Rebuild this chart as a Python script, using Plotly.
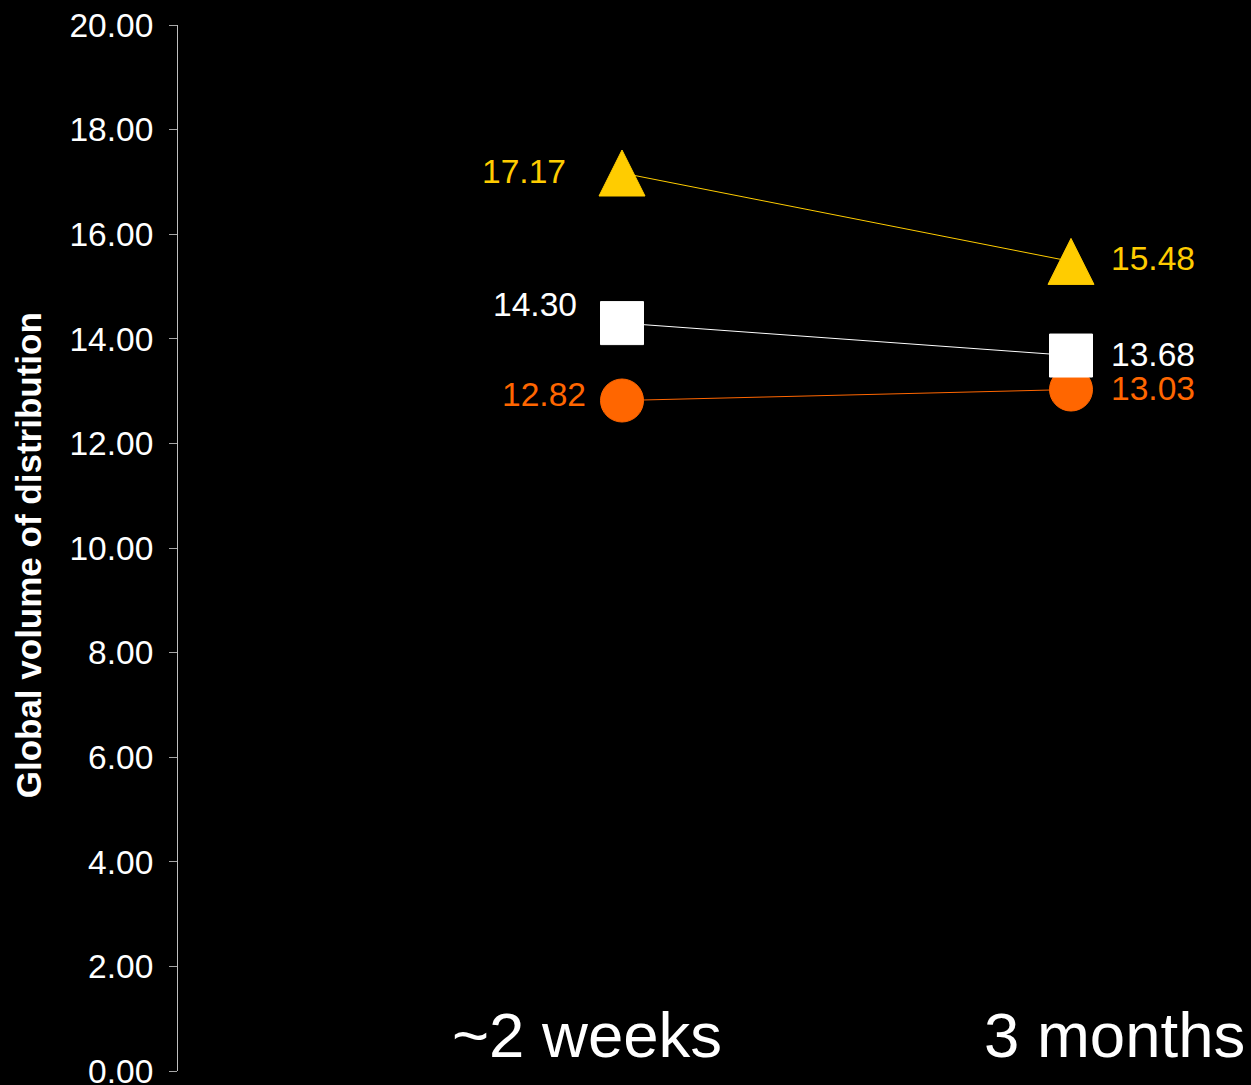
import plotly.graph_objects as go

# ---- data ----
categories = ["~2 weeks", "3 months"]
series_names = ["Circle", "Square", "Triangle"]
circle_values = [12.82, 13.03]
square_values = [14.30, 13.68]
triangle_values = [17.17, 15.48]
y_tick_values = [0, 2, 4, 6, 8, 10, 12, 14, 16, 18, 20]
y_title = "Global volume of distribution"

# ---- styles ----
FONT = "Arial, 'Liberation Sans', sans-serif"
ORANGE = "#FF6600"
WHITE = "#FFFFFF"
YELLOW = "#FFCC00"

fig = go.Figure()

series = [
    (circle_values, ORANGE, dict(symbol="circle", size=43)),
    (square_values, WHITE, dict(symbol="square", size=43)),
    (triangle_values, YELLOW, dict(symbol="arrow-down", size=46, angle=180, standoff=23)),
]
for (vals, col, mk), name in zip(series, series_names):
    fig.add_trace(go.Scatter(
        x=categories, y=vals, name=name, mode="lines+markers",
        line=dict(color=col, width=1),
        marker=dict(color=col, line=dict(color=col, width=1), **mk),
        hoverinfo="skip",
    ))

# value labels: (values, colour, [(xshift, yshift) for each category])
label_offsets = [
    (circle_values, ORANGE, [(-34, 6), (38, 1)]),
    (square_values, WHITE, [(-43, 19), (38, 1)]),
    (triangle_values, YELLOW, [(-54, 2), (38, 3)]),
]
annotations = []
for vals, col, offs in label_offsets:
    for cat, v, (dx, dy) in zip(categories, vals, offs):
        annotations.append(dict(
            x=cat, y=v, xref="x", yref="y", text=f"{v:.2f}", showarrow=False,
            xanchor="right" if dx < 0 else "left", yanchor="middle",
            xshift=dx, yshift=dy, font=dict(family=FONT, size=33.6, color=col),
        ))

# category labels
cat_shifts = [-35, 43]
for cat, dx in zip(categories, cat_shifts):
    annotations.append(dict(
        x=cat, y=0.034, xref="x", yref="paper", text=cat, showarrow=False,
        xanchor="center", yanchor="middle", xshift=dx,
        font=dict(family=FONT, size=63.5, color=WHITE),
    ))

# y axis title
annotations.append(dict(
    x=0, y=0.493, xref="paper", yref="paper", text=f"<b>{y_title}</b>",
    showarrow=False, textangle=-90, xanchor="center", yanchor="middle",
    xshift=-150, font=dict(family=FONT, size=35, color=WHITE),
))

fig.update_layout(
    width=1251, height=1085,
    margin=dict(l=178, r=0, t=25, b=14, autoexpand=False),
    paper_bgcolor="black", plot_bgcolor="black",
    showlegend=False,
    annotations=annotations,
    xaxis=dict(
        type="category", range=[-0.9889, 1.4009], visible=False,
        showgrid=False, zeroline=False,
    ),
    yaxis=dict(
        range=[0, 20], tickvals=y_tick_values, tickformat=".2f",
        showgrid=False, zeroline=False,
        showline=True, linecolor="#BFBFBF", linewidth=1,
        ticks="outside", ticklen=8, tickcolor="#A6A6A6", tickwidth=1,
        ticklabelstandoff=9, ticklabeloverflow="allow",
        tickfont=dict(family=FONT, size=33.5, color=WHITE),
        automargin=False,
    ),
)

fig.write_html("out.html")
